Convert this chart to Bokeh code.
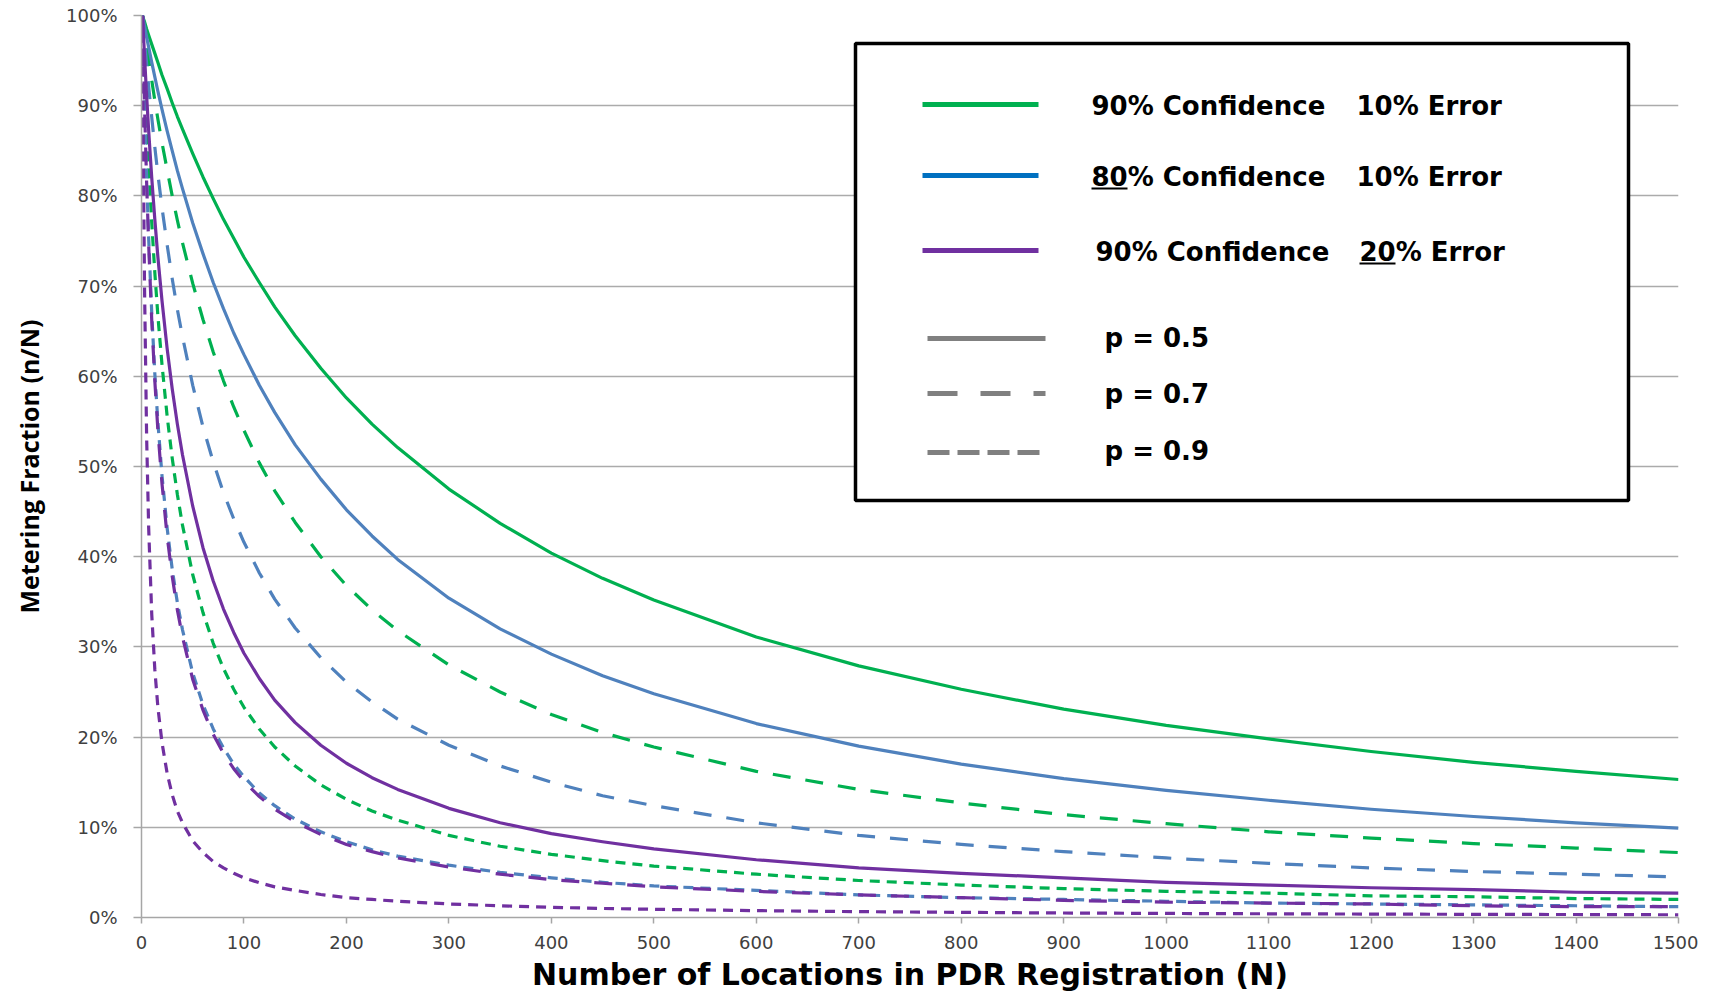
from bokeh.plotting import figure
from bokeh.models import Range1d, FixedTicker, PrintfTickFormatter, BoxAnnotation, Label
from bokeh.embed import file_html
from bokeh.resources import INLINE

# ---------------- data ----------------
N = [1, 2, 3, 5, 7, 10, 13, 16, 20, 25, 30, 35, 40, 50, 60, 70, 80, 90, 100, 115, 130, 150, 175, 200, 225, 250,
     300, 350, 400, 450, 500, 600, 700, 800, 900, 1000, 1100, 1200, 1300, 1400, 1500]

# 90% confidence, 10% error
green_p05 = [100, 99.6, 99.3, 98.5, 97.8, 96.8, 95.8, 94.8, 93.4, 91.9, 90.3, 88.8, 87.4, 84.7, 82.1, 79.7, 77.4,
             75.3, 73.2, 70.4, 67.7, 64.5, 60.9, 57.6, 54.7, 52.1, 47.5, 43.7, 40.4, 37.6, 35.2, 31.1, 27.9, 25.3,
             23.1, 21.3, 19.8, 18.4, 17.2, 16.2, 15.3]
green_p07 = [100, 99.1, 98.3, 96.7, 95.1, 92.8, 90.6, 88.5, 85.9, 82.9, 80.0, 77.3, 74.8, 70.3, 66.3, 62.7, 59.5,
             56.6, 54.0, 50.4, 47.3, 43.8, 40.0, 36.8, 34.1, 31.8, 28.0, 25.0, 22.5, 20.5, 18.9, 16.2, 14.2, 12.7,
             11.4, 10.4, 9.5, 8.8, 8.2, 7.7, 7.2]
green_p09 = [100, 96.8, 93.8, 88.3, 83.4, 77.0, 71.5, 66.7, 61.3, 55.6, 50.9, 46.9, 43.5, 38.0, 33.8, 30.4, 27.6,
             25.3, 23.3, 20.9, 18.9, 16.8, 14.7, 13.1, 11.8, 10.8, 9.1, 7.9, 7.0, 6.3, 5.7, 4.8, 4.1, 3.6,
             3.2, 2.9, 2.7, 2.4, 2.3, 2.1, 2.0]
# 80% confidence, 10% error
blue_p05 = [100, 99.4, 98.8, 97.6, 96.5, 94.8, 93.2, 91.6, 89.6, 87.2, 85.0, 82.8, 80.8, 77.0, 73.6, 70.4, 67.5,
            64.8, 62.4, 59.0, 56.0, 52.4, 48.6, 45.2, 42.3, 39.7, 35.4, 32.0, 29.2, 26.8, 24.8, 21.5, 19.0, 17.0,
            15.4, 14.1, 13.0, 12.0, 11.2, 10.5, 9.9]
blue_p07 = [100, 98.6, 97.2, 94.6, 92.1, 88.7, 85.4, 82.4, 78.7, 74.6, 70.8, 67.4, 64.4, 59.0, 54.4, 50.5, 47.1,
            44.2, 41.6, 38.2, 35.3, 32.1, 28.8, 26.1, 23.9, 22.0, 19.1, 16.8, 15.0, 13.5, 12.4, 10.5, 9.1, 8.1,
            7.3, 6.6, 6.0, 5.5, 5.1, 4.8, 4.5]
blue_p09 = [100, 94.8, 90.1, 82.0, 75.3, 67.0, 60.3, 54.9, 49.0, 43.2, 38.6, 34.9, 31.9, 27.1, 23.6, 20.9, 18.8,
            17.0, 15.6, 13.8, 12.4, 10.9, 9.5, 8.4, 7.5, 6.8, 5.8, 5.0, 4.4, 3.9, 3.5, 3.0, 2.5, 2.2,
            2.0, 1.8, 1.6, 1.5, 1.4, 1.3, 1.2]
# 90% confidence, 20% error
purple_p05 = [100, 97.6, 95.4, 91.1, 87.2, 82.0, 77.4, 73.2, 68.4, 63.1, 58.6, 54.7, 51.3, 45.6, 41.0, 37.3, 34.2,
              31.6, 29.3, 26.5, 24.1, 21.6, 19.1, 17.1, 15.5, 14.2, 12.1, 10.5, 9.3, 8.4, 7.6, 6.4, 5.5, 4.9,
              4.4, 3.9, 3.6, 3.3, 3.1, 2.8, 2.7]
purple_p07 = [100, 94.6, 89.8, 81.5, 74.6, 66.2, 59.5, 54.0, 48.1, 42.3, 37.8, 34.1, 31.1, 26.4, 23.0, 20.3, 18.2,
              16.5, 15.1, 13.4, 12.0, 10.6, 9.2, 8.1, 7.3, 6.6, 5.6, 4.8, 4.2, 3.8, 3.4, 2.9, 2.5, 2.2,
              1.9, 1.7, 1.6, 1.5, 1.3, 1.2, 1.2]
purple_p09 = [100, 82.0, 69.5, 53.3, 43.2, 33.6, 27.5, 23.3, 19.4, 16.0, 13.6, 11.8, 10.5, 8.5, 7.2, 6.2, 5.5,
              4.9, 4.4, 3.85, 3.4, 3.0, 2.55, 2.2, 2.0, 1.8, 1.5, 1.3, 1.13, 1.0, 0.91, 0.76, 0.65, 0.57,
              0.5, 0.45, 0.41, 0.38, 0.35, 0.33, 0.3]

x_ticks = list(range(0, 1501, 100))
y_ticks = list(range(0, 101, 10))

legend_groups = ["90% Confidence", "80% Confidence", "90% Confidence"]
legend_errors = ["10% Error", "10% Error", "20% Error"]
legend_p = ["p = 0.5", "p = 0.7", "p = 0.9"]

# ---------------- styles ----------------
GREEN, BLUE, PURPLE = "#00b050", "#4f81bd", "#7030a0"
LEG_COLORS = ["#00b050", "#0070c0", "#7030a0"]
GRAY = "#808080"
DASH = {"p05": "solid", "p07": "18 15", "p09": "10 7"}

FRAME_W, FRAME_H = 1537, 902
BL, BT, BR, BB = 141, 15, 20, 76

p = figure(frame_width=FRAME_W, frame_height=FRAME_H,
           min_border_left=BL, min_border_top=BT, min_border_right=BR, min_border_bottom=BB,
           x_range=Range1d(0, 1500), y_range=Range1d(0, 100),
           output_backend="svg", toolbar_location=None, tools="")
p.outline_line_color = None
p.background_fill_color = "white"

p.xaxis.ticker = FixedTicker(ticks=x_ticks)
p.yaxis.ticker = FixedTicker(ticks=y_ticks)
p.yaxis.formatter = PrintfTickFormatter(format="%d%%")
p.xgrid.grid_line_color = None
p.ygrid.grid_line_color = "#ababab"
p.ygrid.grid_line_width = 1.5

for ax in (p.xaxis, p.yaxis):
    ax.axis_line_color = "#a6a6a6"
    ax.axis_line_width = 1.5
    ax.major_tick_line_color = "#a6a6a6"
    ax.major_tick_line_width = 1.5
    ax.major_tick_in = 0
    ax.minor_tick_line_color = None
    ax.major_label_text_font = "DejaVu Sans"
    ax.major_label_text_font_size = "18px"
    ax.major_label_text_color = "#404040"

p.xaxis.major_tick_out = 6
p.xaxis.major_label_standoff = 12
p.yaxis.major_tick_out = 8
p.yaxis.major_label_standoff = 16

p.xaxis.axis_label = "Number of Locations in PDR Registration (N)"
p.xaxis.axis_label_text_font = "DejaVu Sans"
p.xaxis.axis_label_text_font_style = "bold"
p.xaxis.axis_label_text_font_size = "30px"
p.xaxis.axis_label_text_color = "black"
p.xaxis.axis_label_standoff = 5

p.yaxis.axis_label = "Metering Fraction (n/N)"
p.yaxis.axis_label_text_font = "Open Sans"
p.yaxis.axis_label_text_font_style = "bold"
p.yaxis.axis_label_text_font_size = "25px"
p.yaxis.axis_label_text_color = "black"
p.yaxis.axis_label_standoff = 17

series = [
    (green_p05, GREEN, "p05"), (green_p07, GREEN, "p07"), (green_p09, GREEN, "p09"),
    (blue_p05, BLUE, "p05"), (blue_p07, BLUE, "p07"), (blue_p09, BLUE, "p09"),
    (purple_p05, PURPLE, "p05"), (purple_p07, PURPLE, "p07"), (purple_p09, PURPLE, "p09"),
]
for ys, col, key in series:
    assert len(ys) == len(N)
    p.line(N, ys, line_color=col, line_width=3.2, line_dash=DASH[key], line_join="round")

# ---------------- legend (drawn manually; layout given in page pixels) ----------------
PAGE_FRAME_LEFT, PAGE_FRAME_TOP = BL, BT


def dx(px):
    return (px - PAGE_FRAME_LEFT) / FRAME_W * 1500


def dy(py):
    return (PAGE_FRAME_TOP + FRAME_H - py) / FRAME_H * 100


p.add_layout(BoxAnnotation(left=dx(855), right=dx(1628), top=dy(43), bottom=dy(500),
                           fill_color="white", fill_alpha=1.0,
                           line_color="black", line_alpha=1.0, line_width=3.5,
                           level="underlay"))

LEG_FONT = "DejaVu Sans"
LEG_SIZE = "26px"
row_line_y = [104, 175, 250]
row_text_y = [105, 176, 251]
row_text_x = [1091, 1091, 1095]
err_text_x = [1356, 1356, 1359]
for i in range(3):
    p.segment(x0=[dx(922)], y0=[dy(row_line_y[i])], x1=[dx(1038)], y1=[dy(row_line_y[i])],
              line_color=LEG_COLORS[i], line_width=5)
    p.add_layout(Label(x=dx(row_text_x[i]), y=dy(row_text_y[i]), text=legend_groups[i],
                       text_font=LEG_FONT, text_font_size=LEG_SIZE, text_font_style="bold",
                       text_color="black", text_baseline="alphabetic", text_align="left"))
    p.add_layout(Label(x=dx(err_text_x[i]), y=dy(row_text_y[i]), text=legend_errors[i],
                       text_font=LEG_FONT, text_font_size=LEG_SIZE, text_font_style="bold",
                       text_color="black", text_baseline="alphabetic", text_align="left"))

# underlines under "80" and "20"
p.segment(x0=[dx(1091), dx(1359)], y0=[dy(188), dy(263)],
          x1=[dx(1127), dx(1395)], y1=[dy(188), dy(263)],
          line_color="black", line_width=2)

p_line_y = [338, 393, 452]
p_text_y = [337, 393, 450]
p_dash = ["solid", "30 23", "22 8"]
for i in range(3):
    p.segment(x0=[dx(927)], y0=[dy(p_line_y[i])], x1=[dx(1045)], y1=[dy(p_line_y[i])],
              line_color=GRAY, line_width=5, line_dash=p_dash[i])
    p.add_layout(Label(x=dx(1104), y=dy(p_text_y[i]), text=legend_p[i],
                       text_font=LEG_FONT, text_font_size=LEG_SIZE, text_font_style="bold",
                       text_color="black", text_baseline="alphabetic", text_align="left"))

open("out.html", "w").write(file_html(p, INLINE))
